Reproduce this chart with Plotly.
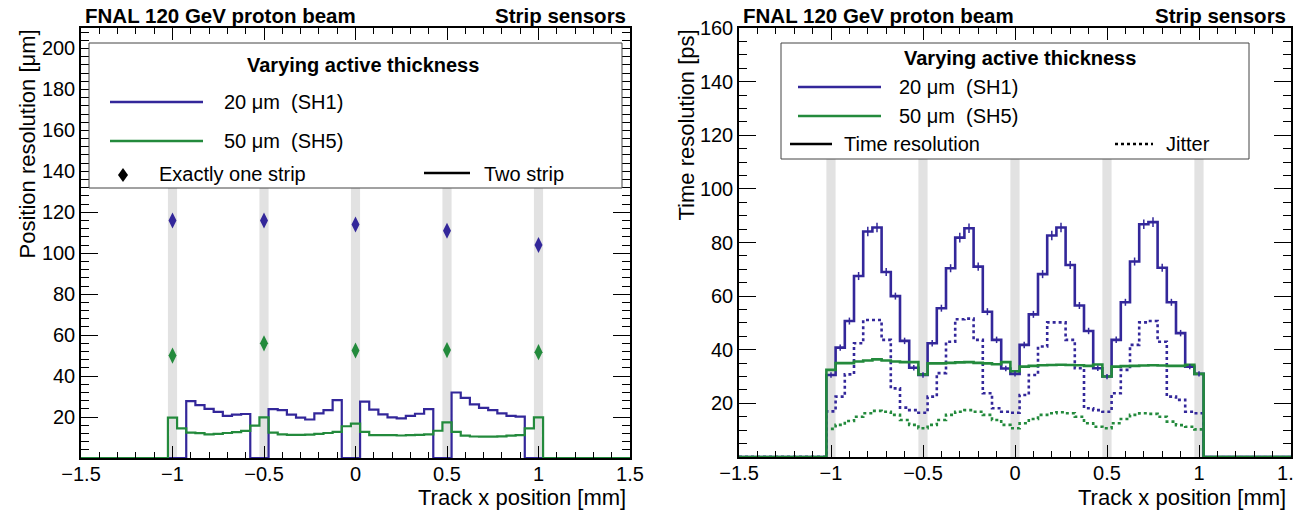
import plotly.graph_objects as go

# ---------------- data ----------------
bin_centers = [-1.0, -0.95, -0.9, -0.85, -0.8, -0.75, -0.7, -0.65, -0.6, -0.55,
               -0.5, -0.45, -0.4, -0.35, -0.3, -0.25, -0.2, -0.15, -0.1, -0.05,
               0.0, 0.05, 0.1, 0.15, 0.2, 0.25, 0.3, 0.35, 0.4, 0.45,
               0.5, 0.55, 0.6, 0.65, 0.7, 0.75, 0.8, 0.85, 0.9, 0.95, 1.0]
strip_positions = [-1.0, -0.5, 0.0, 0.5, 1.0]

# Position resolution, two strip (um)
pos_two_sh1 = [0, 0, 27.8, 25.8, 24.0, 22.5, 20.6, 21.2, 21.5, 0,
               0, 23.9, 23.4, 21.2, 19.7, 18.8, 21.8, 23.4, 28.3, 0,
               0, 27.5, 23.6, 21.3, 19.8, 19.4, 20.6, 21.6, 23.9, 0,
               0, 32.0, 29.4, 26.2, 24.5, 23.4, 21.8, 20.6, 20.2, 0, 0]
pos_two_sh5 = [19.7, 14.5, 12.4, 12.1, 11.5, 11.8, 12.2, 12.6, 13.2, 15.8,
               19.8, 12.4, 11.5, 11.3, 11.3, 11.4, 11.8, 12.2, 12.8, 15.5,
               16.8, 12.8, 11.2, 11.2, 11.2, 11.0, 11.2, 11.3, 11.5, 13.3,
               17.4, 12.8, 10.9, 10.5, 10.4, 10.4, 10.6, 10.9, 11.2, 14.5, 19.8]
# Position resolution, exactly one strip (um)
pos_one_sh1 = [116, 116, 114, 111, 104]
pos_one_sh5 = [50, 56, 52.5, 52.7, 51.7]

# Time resolution (ps)
time_sh1 = [30.6, 40.8, 50.7, 67.5, 84.1, 85.6, 69.0, 60.0, 43.3, 33.3,
            30.6, 42.4, 55.5, 70.4, 81.8, 85.3, 71.0, 54.2, 43.7, 33.0,
            31.0, 41.8, 53.2, 68.2, 82.6, 85.6, 71.6, 56.5, 47.0, 33.1,
            30.0, 43.7, 57.7, 72.9, 86.8, 87.6, 70.6, 57.7, 46.2, 33.7, 31.0]
time_sh1_err = [1.0, 1.2, 1.3, 1.5, 1.8, 1.8, 1.5, 1.3, 1.2, 1.0,
                1.0, 1.2, 1.3, 1.5, 1.8, 1.8, 1.5, 1.3, 1.2, 1.0,
                1.0, 1.2, 1.3, 1.5, 1.8, 1.8, 1.5, 1.3, 1.2, 1.0,
                1.0, 1.2, 1.3, 1.5, 1.8, 1.8, 1.5, 1.3, 1.2, 1.0, 1.0]
time_sh5 = [32.5, 35.0, 35.0, 35.6, 36.0, 36.4, 36.0, 35.6, 35.4, 35.4,
            30.8, 34.9, 34.9, 35.1, 35.3, 35.4, 35.1, 34.9, 34.6, 35.4,
            32.0, 33.7, 34.0, 34.2, 34.3, 34.4, 34.3, 34.2, 34.0, 34.5,
            30.0, 33.7, 33.9, 34.0, 34.1, 34.2, 34.1, 34.0, 34.0, 34.4, 31.0]
jitter_sh1 = [17.0, 22.5, 30.8, 42.4, 51.1, 51.1, 43.7, 25.6, 18.4, 17.5,
              16.5, 22.5, 31.3, 43.0, 51.4, 51.6, 43.7, 23.8, 18.2, 16.9,
              16.5, 23.1, 30.6, 41.2, 50.2, 50.2, 43.7, 33.1, 18.2, 17.5,
              16.9, 23.8, 32.5, 41.8, 50.2, 50.7, 43.0, 22.5, 21.3, 16.9, 16.3]
jitter_sh5 = [10.5, 12.0, 13.4, 15.0, 16.3, 17.2, 16.9, 15.7, 13.8, 12.0,
              10.7, 12.0, 13.8, 15.7, 16.9, 17.5, 16.9, 15.7, 13.8, 12.0,
              10.7, 12.6, 14.2, 15.7, 16.3, 16.7, 16.3, 15.0, 12.6, 11.3,
              10.7, 12.6, 14.2, 15.7, 16.3, 16.1, 15.0, 13.2, 11.9, 11.3, 10.3]

x_ticks = [-1.5, -1, -0.5, 0, 0.5, 1, 1.5]
y_ticks_pos = [20, 40, 60, 80, 100, 120, 140, 160, 180, 200]
y_ticks_time = [20, 40, 60, 80, 100, 120, 140, 160]

# ---------------- style ----------------
W, H = 1293, 512
BLUE = "#33279a"
GREEN = "#238a3c"
BAND = "#e2e2e2"
FONT = "Liberation Sans, Arial, sans-serif"


def fx(p):
    return p / W


def fy(p):
    return 1 - p / H


def padded(vals):
    xs = [-1.5, bin_centers[0] - 0.05] + bin_centers + [bin_centers[-1] + 0.05, 1.5]
    ys = [0, 0] + vals + [0, 0]
    return xs, ys


fig = go.Figure()

# left panel: step histograms
for vals, col in [(pos_two_sh1, BLUE), (pos_two_sh5, GREEN)]:
    xs, ys = padded(vals)
    fig.add_trace(go.Scatter(x=xs, y=ys, mode="lines", line=dict(color=col, width=2.2, shape="hvh"),
                             xaxis="x", yaxis="y", showlegend=False, hoverinfo="skip"))
for vals, col in [(pos_one_sh1, BLUE), (pos_one_sh5, GREEN)]:
    fig.add_trace(go.Scatter(x=strip_positions, y=vals, mode="markers",
                             marker=dict(symbol="diamond-tall", size=11.5, color=col),
                             xaxis="x", yaxis="y", showlegend=False))

# right panel
for vals, col, dash in [(jitter_sh5, GREEN, "dot"), (jitter_sh1, BLUE, "dot"),
                        (time_sh1, BLUE, "solid"), (time_sh5, GREEN, "solid")]:
    xs, ys = padded(vals)
    fig.add_trace(go.Scatter(x=xs, y=ys, mode="lines",
                             line=dict(color=col, width=2.6, shape="hvh", dash=dash),
                             xaxis="x2", yaxis="y2", showlegend=False, hoverinfo="skip"))
fig.add_trace(go.Scatter(x=bin_centers, y=time_sh1, mode="markers",
                         marker=dict(size=1, color=BLUE),
                         error_y=dict(type="data", array=time_sh1_err, color=BLUE, thickness=1.5, width=0),
                         xaxis="x2", yaxis="y2", showlegend=False, hoverinfo="skip"))

shapes = []
# strip-metal bands: from the bottom of each frame up to the legend box
for s in strip_positions:
    for xr, ybot, ytop in [("x", 458, 188), ("x2", 457, 159)]:
        shapes.append(dict(type="rect", xref=xr, yref="paper", x0=s - 0.025, x1=s + 0.025,
                           y0=fy(ybot), y1=fy(ytop),
                           fillcolor=BAND, line=dict(width=0), layer="below"))

annotations = []


def text(x, y, t, size=20, bold=False, xanchor="left", yanchor="middle", angle=0):
    annotations.append(dict(xref="paper", yref="paper", x=fx(x), y=fy(y), text=("<b>%s</b>" % t) if bold else t,
                            showarrow=False, xanchor=xanchor, yanchor=yanchor, textangle=angle,
                            font=dict(family=FONT, size=size, color="black")))


def hline(x0, x1, y, color, dash="solid", width=2.4):
    shapes.append(dict(type="line", xref="paper", yref="paper", x0=fx(x0), x1=fx(x1), y0=fy(y), y1=fy(y),
                       line=dict(color=color, width=width, dash=dash), layer="above"))


# headers
text(83, 15, "FNAL 120 GeV proton beam", size=20.5, bold=True)
text(628, 15, "Strip sensors", size=20.5, bold=True, xanchor="right")
text(741, 15, "FNAL 120 GeV proton beam", size=20.5, bold=True)
text(1288, 15, "Strip sensors", size=20.5, bold=True, xanchor="right")

# axis titles
text(628, 497, "Track x position [mm]", size=22, xanchor="right")
text(1288, 497, "Track x position [mm]", size=22, xanchor="right")
text(27, 28, "Position resolution [μm]", size=22, xanchor="center", yanchor="top", angle=-90)
text(686, 28, "Time resolution [ps]", size=22, xanchor="center", yanchor="top", angle=-90)

# left legend
shapes.append(dict(type="rect", xref="paper", yref="paper", x0=fx(89), x1=fx(622), y0=fy(188), y1=fy(43),
                   fillcolor="white", line=dict(color="#444", width=1), layer="above"))
text(363, 65, "Varying active thickness", bold=True, xanchor="center")
hline(110, 203, 102, BLUE)
text(222, 102, "20 μm\u00a0 (SH1)")
hline(110, 203, 141, GREEN)
text(222, 141, "50 μm\u00a0 (SH5)")
shapes.append(dict(type="path", xref="paper", yref="paper",
                   path="M %f,%f L %f,%f L %f,%f L %f,%f Z" % (fx(123), fy(168), fx(128), fy(175),
                                                               fx(123), fy(182), fx(118), fy(175)),
                   fillcolor="black", line=dict(width=0), layer="above"))
text(157, 174, "Exactly one strip")
hline(424, 470, 173, "black")
text(482, 174, "Two strip")

# right legend
shapes.append(dict(type="rect", xref="paper", yref="paper", x0=fx(781), x1=fx(1249), y0=fy(159), y1=fy(43),
                   fillcolor="white", line=dict(color="#444", width=1), layer="above"))
text(1020, 58, "Varying active thickness", bold=True, xanchor="center")
hline(798, 881, 87, BLUE)
text(897, 87, "20 μm\u00a0 (SH1)")
hline(798, 881, 116, GREEN)
text(897, 116, "50 μm\u00a0 (SH5)")
hline(790, 832, 144, "black")
text(842, 144, "Time resolution")
hline(1115, 1153, 144, "black", dash="dot")
text(1164, 144, "Jitter")

axis_common = dict(showline=True, linecolor="black", linewidth=1.5, mirror="ticks", ticks="inside",
                   tickcolor="black", tickwidth=1.3, showgrid=False, zeroline=False, automargin=False,
                   ticklabeloverflow="allow",
                   tickfont=dict(family=FONT, size=20, color="black"))

fig.update_layout(
    width=W, height=H, margin=dict(l=0, r=0, t=0, b=0, autoexpand=False),
    paper_bgcolor="white", plot_bgcolor="white", showlegend=False,
    font=dict(family=FONT, color="black"),
    xaxis=dict(domain=[fx(81), fx(630)], anchor="y", range=[-1.5, 1.5], tickvals=x_ticks, ticklen=12,
               ticklabelstandoff=-3,
               minor=dict(dtick=0.1, ticklen=6, ticks="inside", tickcolor="black", tickwidth=1.2),
               **axis_common),
    yaxis=dict(domain=[fy(458), fy(28)], anchor="x", range=[0, 210], tickvals=y_ticks_pos, ticklen=17,
               minor=dict(dtick=4, ticklen=8.5, ticks="inside", tickcolor="black", tickwidth=1.2),
               **axis_common),
    xaxis2=dict(domain=[fx(739), fx(1291)], anchor="y2", range=[-1.5, 1.5], tickvals=x_ticks, ticklen=12,
                ticklabelstandoff=-3,
                minor=dict(dtick=0.1, ticklen=6, ticks="inside", tickcolor="black", tickwidth=1.2),
                **axis_common),
    yaxis2=dict(domain=[fy(457), fy(28)], anchor="x2", range=[0, 160], tickvals=y_ticks_time, ticklen=17,
                minor=dict(dtick=5, ticklen=8.5, ticks="inside", tickcolor="black", tickwidth=1.2),
                **axis_common),
    shapes=shapes, annotations=annotations,
)

fig.write_html("out.html")
